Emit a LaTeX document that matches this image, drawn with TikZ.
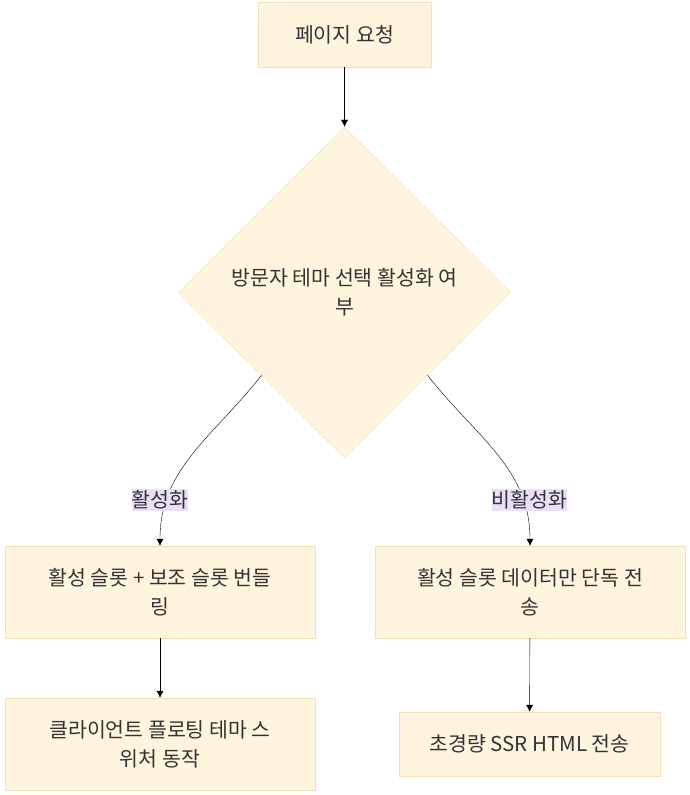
\documentclass[tikz,border=0pt]{standalone}
\usepackage{fontspec}
\setmainfont{Noto Sans CJK KR}
\usetikzlibrary{shapes.geometric,arrows.meta}
\definecolor{boxfill}{RGB}{255,244,221}
\definecolor{boxline}{RGB}{240,226,182}
\definecolor{labfill}{RGB}{234,222,248}
\definecolor{txt}{RGB}{51,51,51}
\begin{document}
\begin{tikzpicture}[x=1pt, y=-1pt,
    every node/.style={text=txt, font=\fontsize{20.5}{29}\selectfont, align=center},
    procbox/.style={draw=boxline, fill=boxfill, inner sep=0pt},
    decbox/.style={procbox, diamond, minimum width=332pt, minimum height=331pt},
    edgelab/.style={fill=labfill, inner xsep=0pt, inner ysep=2pt},
    flow/.style={-{Latex[length=7pt,width=7pt]}, thin}]
    \useasboundingbox (0, 0) rectangle (690, 795) ;
    \node[procbox, minimum width=173pt, minimum height=65pt] (req) at (344.5, 34.5) {페이지 요청} ;
    \node[decbox] (choice) at (344.5, 292.5) {방문자 테마 선택 활성화 여\\부} ;
    \node[procbox, minimum width=310pt, minimum height=92pt] (bundle) at (160, 592) {활성 슬롯 + 보조 슬롯 번들\\링} ;
    \node[procbox, minimum width=310pt, minimum height=92pt] (single) at (530, 592) {활성 슬롯 데이터만 단독 전\\송} ;
    \node[procbox, minimum width=310pt, minimum height=92pt] (switcher) at (160, 744) {클라이언트 플로팅 테마 스\\위처 동작} ;
    \node[procbox, minimum width=261pt, minimum height=64pt] (light) at (529.5, 744) {초경량 SSR HTML 전송} ;
    \draw[flow] (req) -- (choice) ;
    \draw[flow] (choice.south west) to[out=-128, in=90] (bundle.north) ;
    \draw[flow] (choice.south east) to[out=-52, in=90] (single.north) ;
    \node[edgelab] (on) at (160, 500) {활성화} ;
    \node[edgelab] (off) at (529.5, 500) {비활성화} ;
    \draw[flow] (bundle) -- (switcher) ;
    \draw[flow] (single) -- (light) ;
  \end{tikzpicture}
\end{document}
